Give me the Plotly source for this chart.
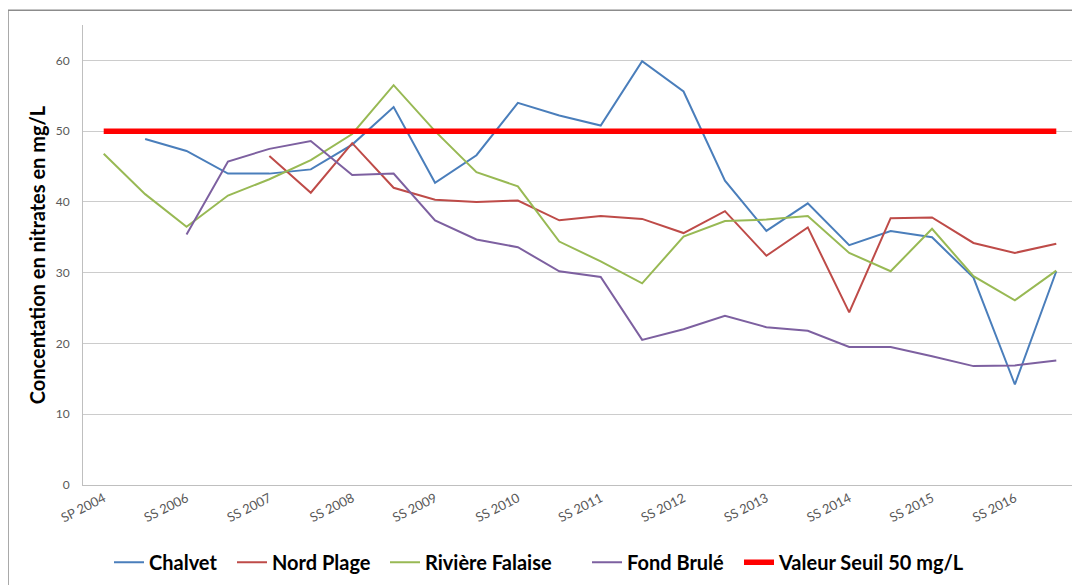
import plotly.graph_objects as go

categories = ["SP 2004", "SP 2005", "SS 2006", "SP 2006", "SS 2007", "SP 2007",
              "SS 2008", "SP 2008", "SS 2009", "SP 2009", "SS 2010", "SP 2010",
              "SS 2011", "SP 2011", "SS 2012", "SP 2012", "SS 2013", "SP 2013",
              "SS 2014", "SP 2014", "SS 2015", "SP 2015", "SS 2016", "SP 2016"]
tick_labels = categories[::2]

chalvet = [None, 48.9, 47.2, 44.0, 44.0, 44.6, 48.1, 53.4, 42.7, 46.6, 54.0, 52.2,
           50.8, 59.9, 55.6, 43.0, 35.9, 39.8, 33.9, 35.9, 35.0, 29.3, 14.2, 30.2]
nord_plage = [None, None, None, None, 46.5, 41.3, 48.3, 42.0, 40.3, 40.0, 40.2, 37.4,
              38.0, 37.6, 35.6, 38.7, 32.4, 36.4, 24.4, 37.7, 37.8, 34.2, 32.8, 34.1]
riviere_falaise = [46.8, 41.1, 36.5, 40.9, 43.2, 45.9, 49.6, 56.5, 50.0, 44.2, 42.2, 34.4,
                   31.6, 28.5, 35.1, 37.3, 37.5, 38.0, 32.8, 30.2, 36.2, 29.5, 26.1, 30.3]
fond_brule = [None, None, 35.4, 45.7, 47.5, 48.6, 43.8, 44.0, 37.4, 34.7, 33.6, 30.2,
              29.4, 20.5, 22.0, 23.9, 22.3, 21.8, 19.5, 19.5, 18.2, 16.8, 16.9, 17.6]
seuil = [50] * len(categories)

series = [
    ("Chalvet", chalvet, "#4A7EBB", 2),
    ("Nord Plage", nord_plage, "#BE4B48", 2),
    ("Rivière Falaise", riviere_falaise, "#98B954", 2),
    ("Fond Brulé", fond_brule, "#7D60A0", 2),
    ("Valeur Seuil 50 mg/L", seuil, "#FF0000", 5.5),
]
# left edge (window px) of each legend entry
legend_px = [109, 232, 385, 587, 739]

# page body has an 8px default margin: compensate
W, H = 1072, 577
ML, MR, MT, MB = 75, 3, 17, 95
PW = W - ML - MR
PH = H - MT - MB

fig = go.Figure()
legend_layouts = {}
for i, (name, vals, color, w) in enumerate(series):
    lg = "legend" if i == 0 else f"legend{i + 1}"
    fig.add_trace(go.Scatter(x=categories, y=vals, mode="lines", name=name,
                             line=dict(color=color, width=w),
                             connectgaps=False, legend=lg))
    legend_layouts[lg] = dict(
        orientation="h", x=(legend_px[i] - 8 - ML) / PW, xanchor="left",
        y=-78 / PH, yanchor="middle", bgcolor="rgba(0,0,0,0)",
        font=dict(size=20, family="Lato", color="#000000", weight="bold"),
        itemwidth=30)

fig.update_layout(
    width=W, height=H,
    margin=dict(l=ML, r=MR, t=MT, b=MB),
    paper_bgcolor="white", plot_bgcolor="white",
    font=dict(family="Lato, Open Sans, sans-serif", color="#000000"),
    showlegend=True,
    **legend_layouts,
)
fig.update_xaxes(
    type="category", categoryorder="array", categoryarray=categories,
    range=[-0.5, len(categories) - 0.5], automargin=False,
    tickmode="array", tickvals=tick_labels, ticktext=tick_labels,
    tickangle=-27, tickfont=dict(size=13, color="#595959", family="Lato"),
    showgrid=False, showline=True, linecolor="#BFBFBF", linewidth=1,
    ticks="", zeroline=False,
)
fig.update_yaxes(
    range=[0, 65], tickmode="array", tickvals=[0, 10, 20, 30, 40, 50, 60],
    tickfont=dict(size=12, color="#595959", family="Lato"), automargin=False,
    showgrid=True, gridcolor="#CCCCCC", gridwidth=1,
    showline=True, linecolor="#BFBFBF", linewidth=1, zeroline=False, ticks="",
    ticklabelstandoff=10,
    title=dict(text="Concentation en nitrates en mg/L",
               font=dict(size=20, family="Lato", color="#000000", weight="bold"),
               standoff=4),
)
# chart frame (left and top edges of the chart area)
fx = (0 - ML) / PW
fy = 1 + (MT - 2) / PH
fig.add_shape(type="line", xref="paper", yref="paper",
              x0=fx, x1=fx, y0=-0.3, y1=fy,
              line=dict(color="#8C8C8C", width=1.5))
fig.add_shape(type="line", xref="paper", yref="paper",
              x0=fx, x1=1.01, y0=fy, y1=fy,
              line=dict(color="#8C8C8C", width=1.5))

fig.write_html("out.html")
